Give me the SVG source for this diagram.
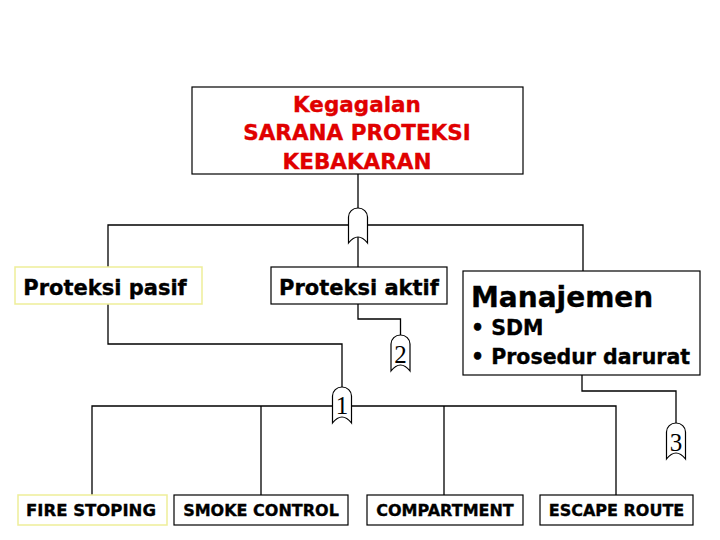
<svg xmlns="http://www.w3.org/2000/svg" width="720" height="540" viewBox="0 0 720 540">
<style>
.box{fill:#fff;stroke:#000;stroke-width:1.2}
.ybox{fill:#fff;stroke:#eeee99;stroke-width:1.5}
.t{font-family:"DejaVu Sans",Verdana,sans-serif;font-weight:bold;fill:#000;stroke:#000;stroke-width:0.35}
.red{fill:#e00000;stroke:#e00000}
.ln{fill:none;stroke:#000;stroke-width:1.3}
.gate{fill:#fff;stroke:#000;stroke-width:1.2}
.num{font-family:"Liberation Serif","Times New Roman",serif;font-size:25px;fill:#000}
</style>
<rect width="720" height="540" fill="#fff"/>
<g id="connectors">
<path class="ln" d="M358 174V208"/>
<path class="ln" d="M108 267V225H348.5M367.5 225H583V271"/>
<path class="ln" d="M358 237V267"/>
<path class="ln" d="M108 304V344H342V387"/>
<path class="ln" d="M358 304V319H400.5V335"/>
<path class="ln" d="M582 375V391H676V423"/>
<path class="ln" d="M92 495V406H332.5M351.5 406H616V495"/>
<path class="ln" d="M261 406V495M444 406V495"/>
</g>
<g id="node-top">
<rect class="box" x="192" y="87" width="331" height="87"/>
<text class="t red" font-size="21.5" text-anchor="middle" x="357" y="112">Kegagalan</text>
<text class="t red" font-size="21.5" text-anchor="middle" x="357" y="140">SARANA PROTEKSI</text>
<text class="t red" font-size="21.5" text-anchor="middle" x="357" y="169">KEBAKARAN</text>
</g>
<g id="gate-top">
<path class="gate" d="M348.5 217A9.5 9 0 0 1 367.5 217V243Q358 231 348.5 243Z"/>
</g>
<g id="node-pasif">
<rect class="ybox" x="15" y="267" width="187" height="37"/>
<text class="t" font-size="21" text-anchor="middle" x="105" y="295">Proteksi pasif</text>
</g>
<g id="node-aktif">
<rect class="box" x="271" y="267" width="176" height="37"/>
<text class="t" font-size="21" text-anchor="middle" x="359" y="295">Proteksi aktif</text>
</g>
<g id="node-manajemen">
<rect class="box" x="463" y="271" width="237" height="104"/>
<text class="t" font-size="28" x="471" y="307">Manajemen</text>
<text class="t" font-size="20.5" x="471" y="335">• SDM</text>
<text class="t" font-size="20.5" x="471" y="364">• Prosedur darurat</text>
</g>
<g id="gate-1">
<path class="gate" d="M332.5 396A9.5 9 0 0 1 351.5 396V423Q342 411 332.5 423Z"/>
<text class="num" text-anchor="middle" x="342" y="414">1</text>
</g>
<g id="gate-2">
<path class="gate" d="M391 344A9.5 9 0 0 1 410 344V371Q400.5 359 391 371Z"/>
<text class="num" text-anchor="middle" x="400.5" y="363">2</text>
</g>
<g id="gate-3">
<path class="gate" d="M666.5 432A9.5 9 0 0 1 685.5 432V459Q676 447 666.5 459Z"/>
<text class="num" text-anchor="middle" x="676" y="451">3</text>
</g>
<g id="node-fire">
<rect class="ybox" x="18" y="495" width="149" height="30"/>
<text class="t" font-size="16.5" text-anchor="middle" x="91" y="516">FIRE STOPING</text>
</g>
<g id="node-smoke">
<rect class="box" x="174" y="495" width="174" height="30"/>
<text class="t" font-size="16" text-anchor="middle" x="261" y="516">SMOKE CONTROL</text>
</g>
<g id="node-compartment">
<rect class="box" x="367" y="495" width="156" height="30"/>
<text class="t" font-size="16" text-anchor="middle" x="445" y="516">COMPARTMENT</text>
</g>
<g id="node-escape">
<rect class="box" x="540" y="495" width="153" height="30"/>
<text class="t" font-size="16" text-anchor="middle" x="616.5" y="516">ESCAPE ROUTE</text>
</g>
</svg>
